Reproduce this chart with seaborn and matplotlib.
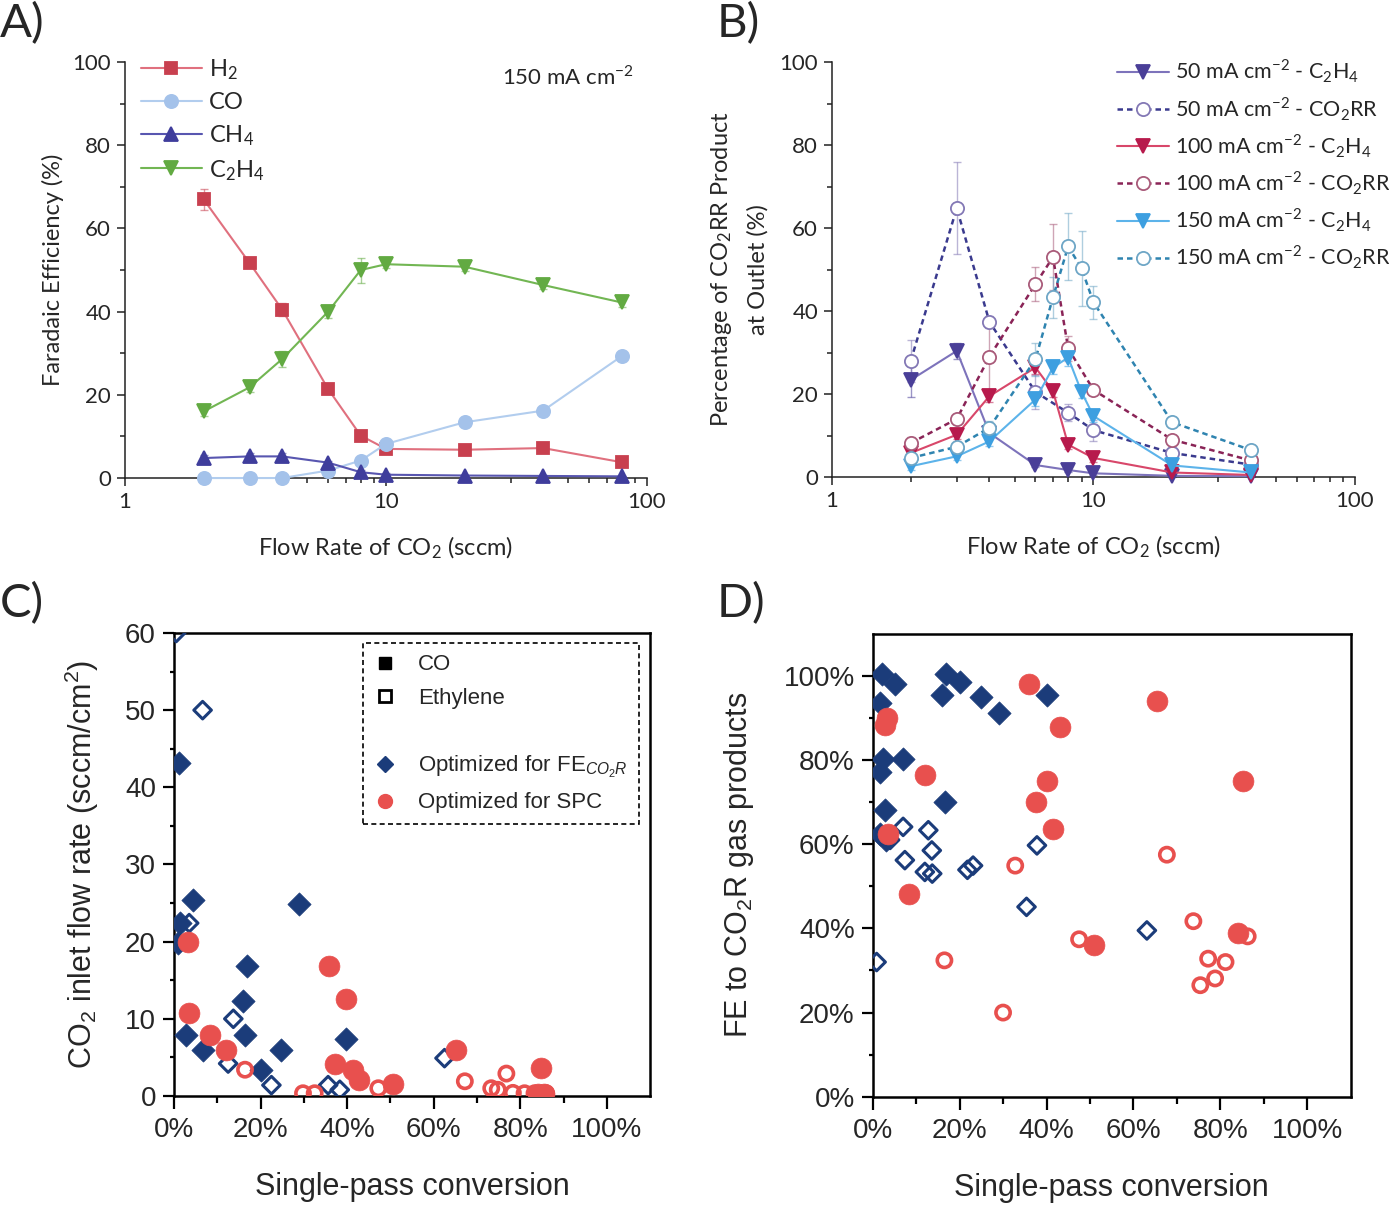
import numpy as np
import pandas as pd
import matplotlib
matplotlib.use("Agg")
import matplotlib.pyplot as plt
from matplotlib.lines import Line2D
from matplotlib.ticker import NullFormatter
import seaborn as sns

# ---------------- Panel A: Faradaic efficiency vs CO2 flow (150 mA cm-2)
flow_a = [2, 3, 4, 6, 8, 10, 20, 40, 80]
fe_h2 = [67.0, 51.7, 40.5, 21.4, 10.2, 7.0, 6.8, 7.2, 3.8]
fe_co = [0.0, 0.0, 0.0, 1.8, 4.2, 8.2, 13.4, 16.2, 29.3]
fe_ch4 = [4.8, 5.2, 5.2, 3.7, 1.4, 0.8, 0.6, 0.5, 0.4]
fe_c2h4 = [16.0, 21.8, 28.6, 40.0, 50.0, 51.4, 50.8, 46.4, 42.2]
err_h2 = [2.5, 1.0, 1.5, 1.0, 1.0, 0.8, 0.5, 0.5, 0.5]
err_co = [0.2, 0.2, 0.2, 0.5, 0.5, 0.5, 0.5, 0.5, 0.5]
err_ch4 = [0.8, 0.8, 0.8, 0.5, 0.5, 0.3, 0.2, 0.2, 0.2]
err_c2h4 = [1.0, 1.0, 2.0, 1.5, 3.0, 1.0, 1.0, 1.0, 1.0]

# ---------------- Panel B: percentage of CO2RR product at outlet
flow_50 = [2, 3, 4, 6, 8, 10, 20, 40]
flow_100 = [2, 3, 4, 6, 7, 8, 10, 20, 40]
flow_150 = [2, 3, 4, 6, 7, 8, 9, 10, 20, 40]
c2h4_50 = [23.4, 30.4, 10.6, 2.9, 1.7, 0.9, 0.3, 0.2]
c2h4_50_err = [4.0, 2.0, 1.0, 0.5, 0.5, 0.5, 0.2, 0.2]
co2rr_50 = [28.0, 64.8, 37.4, 20.5, 15.5, 11.3, 5.8, 3.0]
co2rr_50_err = [5.0, 11.0, 1.5, 4.0, 2.0, 2.5, 0.5, 0.5]
c2h4_100 = [5.8, 10.2, 19.5, 26.4, 20.7, 7.8, 4.6, 1.1, 0.5]
c2h4_100_err = [1.0, 1.0, 1.5, 1.5, 1.5, 1.0, 1.0, 0.5, 0.3]
co2rr_100 = [8.2, 14.0, 29.0, 46.5, 53.0, 31.0, 21.0, 9.0, 4.0]
co2rr_100_err = [1.5, 1.0, 8.0, 4.0, 8.0, 3.0, 1.0, 1.0, 0.5]
c2h4_150 = [2.6, 5.0, 8.6, 18.7, 26.4, 28.8, 20.5, 14.7, 2.8, 1.1]
c2h4_150_err = [1.0, 1.0, 1.0, 1.5, 1.5, 2.0, 1.5, 1.5, 0.5, 0.3]
co2rr_150 = [4.6, 7.3, 11.9, 28.4, 43.3, 55.6, 50.3, 42.1, 13.2, 6.5]
co2rr_150_err = [1.0, 1.0, 1.5, 4.0, 5.0, 8.0, 9.0, 4.0, 1.0, 1.0]

# ---------------- Panel C: CO2 inlet flow rate vs single-pass conversion
c_fe_co_x = [0.012, 0.044, 0.014, 0.010, 0.289, 0.169, 0.160, 0.164, 0.028, 0.068, 0.248, 0.202, 0.398]
c_fe_co_y = [43.2, 25.4, 22.4, 19.8, 24.9, 16.8, 12.3, 7.9, 7.9, 6.0, 6.0, 3.4, 7.4]
c_fe_eth_x = [0.005, 0.066, 0.035, 0.137, 0.125, 0.225, 0.356, 0.383, 0.625]
c_fe_eth_y = [60.0, 50.0, 22.4, 10.0, 4.2, 1.4, 1.4, 0.8, 4.9]
c_spc_co_x = [0.033, 0.035, 0.083, 0.119, 0.358, 0.398, 0.373, 0.414, 0.428, 0.506, 0.652, 0.847, 0.840, 0.855]
c_spc_co_y = [20.0, 10.7, 7.9, 5.9, 16.9, 12.5, 4.1, 3.4, 2.1, 1.6, 5.9, 3.6, 0.3, 0.3]
c_spc_eth_x = [0.164, 0.298, 0.325, 0.472, 0.672, 0.733, 0.748, 0.768, 0.783, 0.810, 0.833, 0.860]
c_spc_eth_y = [3.4, 0.35, 0.35, 1.0, 1.9, 1.0, 0.8, 2.9, 0.4, 0.35, 0.35, 0.35]

# ---------------- Panel D: FE to CO2R gas products vs single-pass conversion
d_fe_co_x = [0.021, 0.051, 0.169, 0.201, 0.159, 0.249, 0.290, 0.400, 0.017, 0.024,
             0.069, 0.017, 0.166, 0.028, 0.017, 0.030]
d_fe_co_y = [1.004, 0.981, 1.004, 0.985, 0.953, 0.950, 0.911, 0.953, 0.934, 0.803,
             0.803, 0.771, 0.700, 0.680, 0.625, 0.610]
d_fe_eth_x = [0.070, 0.128, 0.136, 0.074, 0.120, 0.137, 0.218, 0.231, 0.378, 0.354, 0.631, 0.009, 0.040]
d_fe_eth_y = [0.641, 0.633, 0.585, 0.562, 0.534, 0.530, 0.539, 0.549, 0.597, 0.451, 0.395, 0.320, 0.610]
d_spc_co_x = [0.359, 0.655, 0.431, 0.032, 0.028, 0.120, 0.400, 0.852, 0.375, 0.415, 0.036, 0.084, 0.509, 0.840]
d_spc_co_y = [0.980, 0.941, 0.879, 0.900, 0.882, 0.763, 0.751, 0.751, 0.700, 0.636, 0.625, 0.481, 0.360, 0.389]
d_spc_eth_x = [0.328, 0.677, 0.738, 0.475, 0.863, 0.772, 0.812, 0.788, 0.754, 0.165, 0.300]
d_spc_eth_y = [0.549, 0.575, 0.417, 0.374, 0.381, 0.328, 0.320, 0.281, 0.265, 0.324, 0.200]

pct_ticks = [0, 0.2, 0.4, 0.6, 0.8, 1.0]
pct_labels = ['0%', '20%', '40%', '60%', '80%', '100%']

sns.set_style("ticks")
plt.rcParams['font.family'] = ['Liberation Sans', 'DejaVu Sans']
plt.rcParams['mathtext.fontset'] = 'custom'
plt.rcParams['mathtext.rm'] = 'Liberation Sans'
plt.rcParams['mathtext.it'] = 'Liberation Sans:italic'
plt.rcParams['mathtext.bf'] = 'Liberation Sans:bold'

FONT_AB = 'Lato'
NAVY = '#1b3c7a'
CORAL = '#e8504e'

fig = plt.figure(figsize=(13.89, 12.05), dpi=100)
ax_a = fig.add_axes([0.0900, 0.6033, 0.3758, 0.3452])
ax_b = fig.add_axes([0.5990, 0.6041, 0.3765, 0.3444])
ax_c = fig.add_axes([0.1253, 0.0905, 0.3427, 0.3842])
ax_d = fig.add_axes([0.6283, 0.0898, 0.3441, 0.3844])


def style_flow_axes(ax, ylabel, ylabelpad):
    ax.set_xscale('log')
    ax.set_xlim(1, 100)
    ax.set_ylim(0, 100)
    sns.despine(ax=ax)
    for s in ('left', 'bottom'):
        ax.spines[s].set_linewidth(1.1)
        ax.spines[s].set_color('#222222')
    ax.set_xticks([1, 10, 100], labels=['1', '10', '100'], fontfamily=FONT_AB, fontsize=16)
    ax.set_xticks([k * d for d in (1, 10) for k in range(2, 10)], minor=True)
    ax.xaxis.set_minor_formatter(NullFormatter())
    ax.set_yticks(range(0, 101, 20), labels=[str(v) for v in range(0, 101, 20)],
                  fontfamily=FONT_AB, fontsize=16)
    ax.set_yticks(range(10, 100, 20), minor=True)
    ax.tick_params(which='both', direction='out', width=1.1, color='#222222', pad=4)
    ax.tick_params(which='major', length=6)
    ax.tick_params(which='minor', length=3.5)
    ax.set_xlabel('Flow Rate of CO$_\\mathregular{2}$ (sccm)', fontfamily=FONT_AB,
                  fontsize=17, labelpad=16)
    ax.set_ylabel(ylabel, fontfamily=FONT_AB, fontsize=17, labelpad=ylabelpad,
                  linespacing=1.75)


def flow_line(ax, x, y, err, line_col, mk_col, marker, dashed=False, open_mk=False, ms=9.5):
    df = pd.DataFrame({'flow': x, 'value': y})
    ax.errorbar(x, y, yerr=err, fmt='none', ecolor=mk_col, elinewidth=1.0,
                capsize=3, alpha=0.55, zorder=2, clip_on=False)
    sns.lineplot(data=df, x='flow', y='value', ax=ax, color=line_col, errorbar=None,
                 marker=marker, markersize=ms,
                 markerfacecolor='white' if open_mk else mk_col,
                 markeredgecolor=mk_col, markeredgewidth=1.3,
                 linewidth=1.8 if dashed else 1.5,
                 linestyle=(0, (2.2, 1.6)) if dashed else '-',
                 clip_on=False, zorder=3)
    return ax.lines[-1]


# ---------------- Panel A
h_h2 = flow_line(ax_a, flow_a, fe_h2, err_h2, '#e0707e', '#c8404f', 's', ms=8.5)
h_co = flow_line(ax_a, flow_a, fe_co, err_co, '#b2cdee', '#a4c2ea', 'o')
h_ch4 = flow_line(ax_a, flow_a, fe_ch4, err_ch4, '#5856b0', '#3f3d9c', '^')
h_c2h4 = flow_line(ax_a, flow_a, fe_c2h4, err_c2h4, '#72b653', '#62aa42', 'v')
style_flow_axes(ax_a, 'Faradaic Efficiency (%)', 6)
ax_a.legend([h_h2, h_co, h_ch4, h_c2h4],
            ['H$_\\mathregular{2}$', 'CO', 'CH$_\\mathregular{4}$',
             'C$_\\mathregular{2}$H$_\\mathregular{4}$'],
            loc='upper left', bbox_to_anchor=(0.03, 1.012), borderaxespad=0, borderpad=0,
            frameon=False, handlelength=2.6, handletextpad=0.3, labelspacing=0.42,
            prop={'family': FONT_AB, 'size': 17})
ax_a.text(0.975, 0.965, '150 mA cm$^{\\mathregular{-2}}$', transform=ax_a.transAxes,
          ha='right', va='center', fontfamily=FONT_AB, fontsize=16)

# ---------------- Panel B
cur = 'mA cm$^{\\mathregular{-2}}$'
c2 = 'C$_\\mathregular{2}$H$_\\mathregular{4}$'
rr = 'CO$_\\mathregular{2}$RR'
hb = []
hb.append(flow_line(ax_b, flow_50, c2h4_50, c2h4_50_err, '#7d73bb', '#4a3f98', 'v'))
hb.append(flow_line(ax_b, flow_50, co2rr_50, co2rr_50_err, '#3a3a8e', '#8378b5', 'o',
                    dashed=True, open_mk=True))
hb.append(flow_line(ax_b, flow_100, c2h4_100, c2h4_100_err, '#d8476a', '#b71a4c', 'v'))
hb.append(flow_line(ax_b, flow_100, co2rr_100, co2rr_100_err, '#8a2457', '#a95b7a', 'o',
                    dashed=True, open_mk=True))
hb.append(flow_line(ax_b, flow_150, c2h4_150, c2h4_150_err, '#5cb3ea', '#3d9fe0', 'v'))
hb.append(flow_line(ax_b, flow_150, co2rr_150, co2rr_150_err, '#2f84b0', '#6ea6c6', 'o',
                    dashed=True, open_mk=True))
style_flow_axes(ax_b, 'Percentage of CO$_\\mathregular{2}$RR Product\nat Outlet (%)', 8)
labels_b = [f'{c} {cur} - {p}' for c in (50, 100, 150) for p in (c2, rr)]
ax_b.legend(hb, labels_b, loc='upper left', bbox_to_anchor=(0.545, 1.01),
            borderaxespad=0, borderpad=0, frameon=False, handlelength=2.4,
            handletextpad=0.3, labelspacing=0.45, prop={'family': FONT_AB, 'size': 15.5})


# ---------------- Panels C and D
def conversion_scatter(ax, fe_co, fe_eth, spc_co, spc_eth):
    sns.scatterplot(x=fe_eth[0], y=fe_eth[1], ax=ax, marker='D', s=80, color=NAVY,
                    facecolor='none', edgecolor=NAVY, linewidth=2.2, zorder=3)
    sns.scatterplot(x=fe_co[0], y=fe_co[1], ax=ax, marker='D', s=140, color=NAVY,
                    edgecolor=NAVY, linewidth=0.5, zorder=3)
    sns.scatterplot(x=spc_eth[0], y=spc_eth[1], ax=ax, marker='o', s=105, color=CORAL,
                    facecolor='none', edgecolor=CORAL, linewidth=2.6, zorder=4)
    sns.scatterplot(x=spc_co[0], y=spc_co[1], ax=ax, marker='o', s=225, color=CORAL,
                    edgecolor=CORAL, linewidth=0.5, zorder=4)
    ax.set_xlim(0, 1.1)
    ax.set_xticks(pct_ticks, labels=pct_labels, fontsize=20)
    ax.set_xticks([0.1, 0.3, 0.5, 0.7, 0.9], minor=True)
    for s in ax.spines.values():
        s.set_linewidth(1.8)
        s.set_color('black')
    ax.tick_params(which='both', direction='out', width=1.6, color='black')
    ax.tick_params(axis='x', which='major', length=9, pad=6)
    ax.tick_params(axis='x', which='minor', length=5)
    ax.tick_params(axis='y', which='major', length=8, pad=5)
    ax.tick_params(axis='y', which='minor', length=3)
    ax.set_xlabel('Single-pass conversion', fontsize=22, labelpad=21)


conversion_scatter(ax_c, (c_fe_co_x, c_fe_co_y), (c_fe_eth_x, c_fe_eth_y),
                   (c_spc_co_x, c_spc_co_y), (c_spc_eth_x, c_spc_eth_y))
ax_c.set_ylim(0, 60)
ax_c.set_yticks(range(0, 61, 10), labels=[str(v) for v in range(0, 61, 10)], fontsize=20)
ax_c.set_yticks(range(5, 60, 10), minor=True)
ax_c.set_ylabel('CO$_2$ inlet flow rate (sccm/cm$^2$)', fontsize=22, labelpad=17)

leg_handles = [
    Line2D([], [], linestyle='none', marker='s', markersize=9, color='black'),
    Line2D([], [], linestyle='none', marker='s', markersize=9, markerfacecolor='white',
           markeredgecolor='black', markeredgewidth=2),
    Line2D([], [], linestyle='none'),
    Line2D([], [], linestyle='none', marker='D', markersize=8, color=NAVY),
    Line2D([], [], linestyle='none', marker='o', markersize=10, color=CORAL),
]
leg_labels = ['CO', 'Ethylene', ' ', 'Optimized for FE$_{CO_2R}$', 'Optimized for SPC']
leg = ax_c.legend(leg_handles, leg_labels, loc='upper right', bbox_to_anchor=(0.977, 0.978),
                  borderaxespad=0, fontsize=16, handlelength=1.0, handletextpad=1.0,
                  labelspacing=0.55, fancybox=False, framealpha=1, borderpad=0.5)
leg.get_frame().set_edgecolor('black')
leg.get_frame().set_linestyle((0, (3, 2)))
leg.get_frame().set_linewidth(1.2)

conversion_scatter(ax_d, (d_fe_co_x, d_fe_co_y), (d_fe_eth_x, d_fe_eth_y),
                   (d_spc_co_x, d_spc_co_y), (d_spc_eth_x, d_spc_eth_y))
ax_d.set_ylim(0, 1.1)
ax_d.set_yticks(pct_ticks, labels=pct_labels, fontsize=20)
ax_d.set_yticks([0.1, 0.3, 0.5, 0.7, 0.9], minor=True)
ax_d.set_ylabel('FE to CO$_2$R gas products', fontsize=22, labelpad=20)

# panel letters
for x, y, t in [(0.0, 0.998, 'A)'), (0.516, 0.998, 'B)'),
                (0.0, 0.517, 'C)'), (0.516, 0.517, 'D)')]:
    fig.text(x, y, t, fontsize=34, fontfamily=FONT_AB, va='top', ha='left')

fig.savefig('out.png', dpi=100)
